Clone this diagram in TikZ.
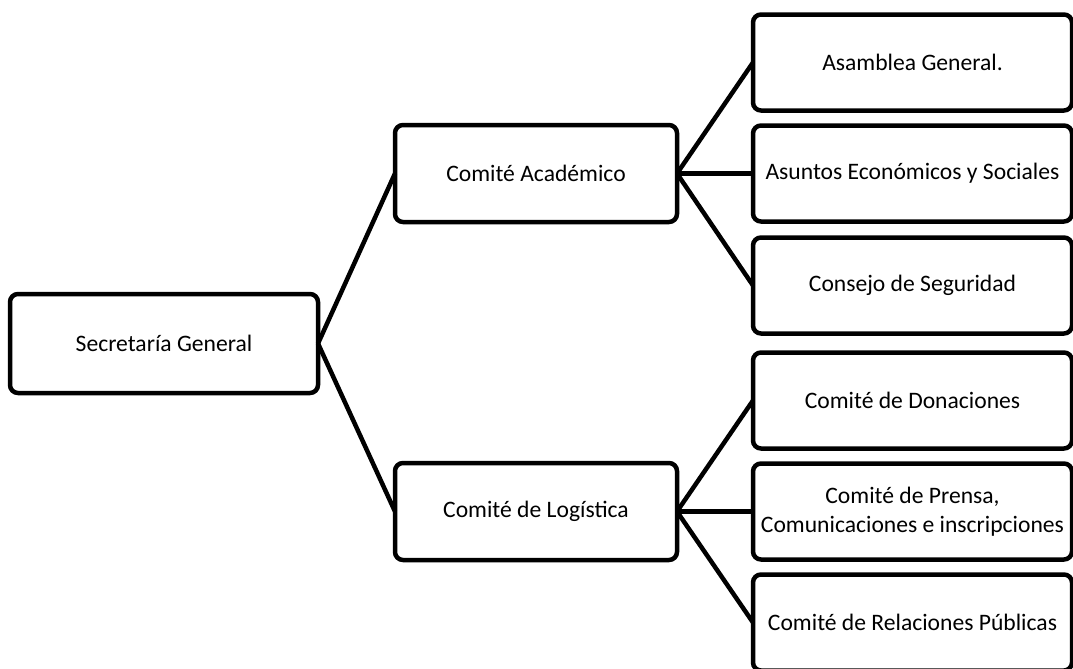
\documentclass[tikz,border=0pt]{standalone}
\usepackage{fontspec}
\setmainfont{Carlito}
\usetikzlibrary{positioning}

\begin{document}
\begin{tikzpicture}[x=0.5pt, y=-0.5pt,
			box/.style={draw=black, rounded corners=4pt, line width=2.25pt, outer sep=0pt, minimum width=141pt, minimum height=48.5pt, align=center, font=\fontsize{11.8}{14.5}\selectfont},
			rootbox/.style={box, minimum width=154pt, minimum height=49.5pt},
			leafbox/.style={box, inner xsep=0pt, minimum width=159.5pt, minimum height=48pt},
			edge/.style={line width=2.25pt}
		]
		\useasboundingbox (0,0) rectangle (1073,669);
		\clip (0,0) rectangle (1073,669);
		\node[rootbox] (secretaria) at (164,343.5) {Secretaría General};
		\node[box] (academico) [above right=36pt and 38.5pt of secretaria] {Comité Académico};
		\node[box] (logistica) [below right=35pt and 38.5pt of secretaria] {Comité de Logística};
		% comite academico
		\node[leafbox] (asuntos) [right=38pt of academico] {Asuntos Económicos y Sociales};
		\node[leafbox] (asamblea) [above=7.5pt of asuntos] {Asamblea General.};
		\node[leafbox] (consejo) [below=8pt of asuntos] {Consejo de Seguridad};
		% comite de logistica
		\node[leafbox] (prensa) [right=38pt of logistica] {Comité de Prensa,\\Comunicaciones e inscripciones};
		\node[leafbox] (donaciones) [above=7.5pt of prensa] {Comité de Donaciones};
		\node[leafbox] (relaciones) [below=7.5pt of prensa] {Comité de Relaciones Públicas};

		\draw[edge]
		(secretaria.east) edge (academico.west)
		(secretaria.east) edge (logistica.west)
		(academico.east) edge (asamblea.west)
		(academico.east) edge (asuntos.west)
		(academico.east) edge (consejo.west)
		(logistica.east) edge (donaciones.west)
		(logistica.east) edge (prensa.west)
		(logistica.east) edge (relaciones.west)
		;
		\end{tikzpicture}
\end{document}
